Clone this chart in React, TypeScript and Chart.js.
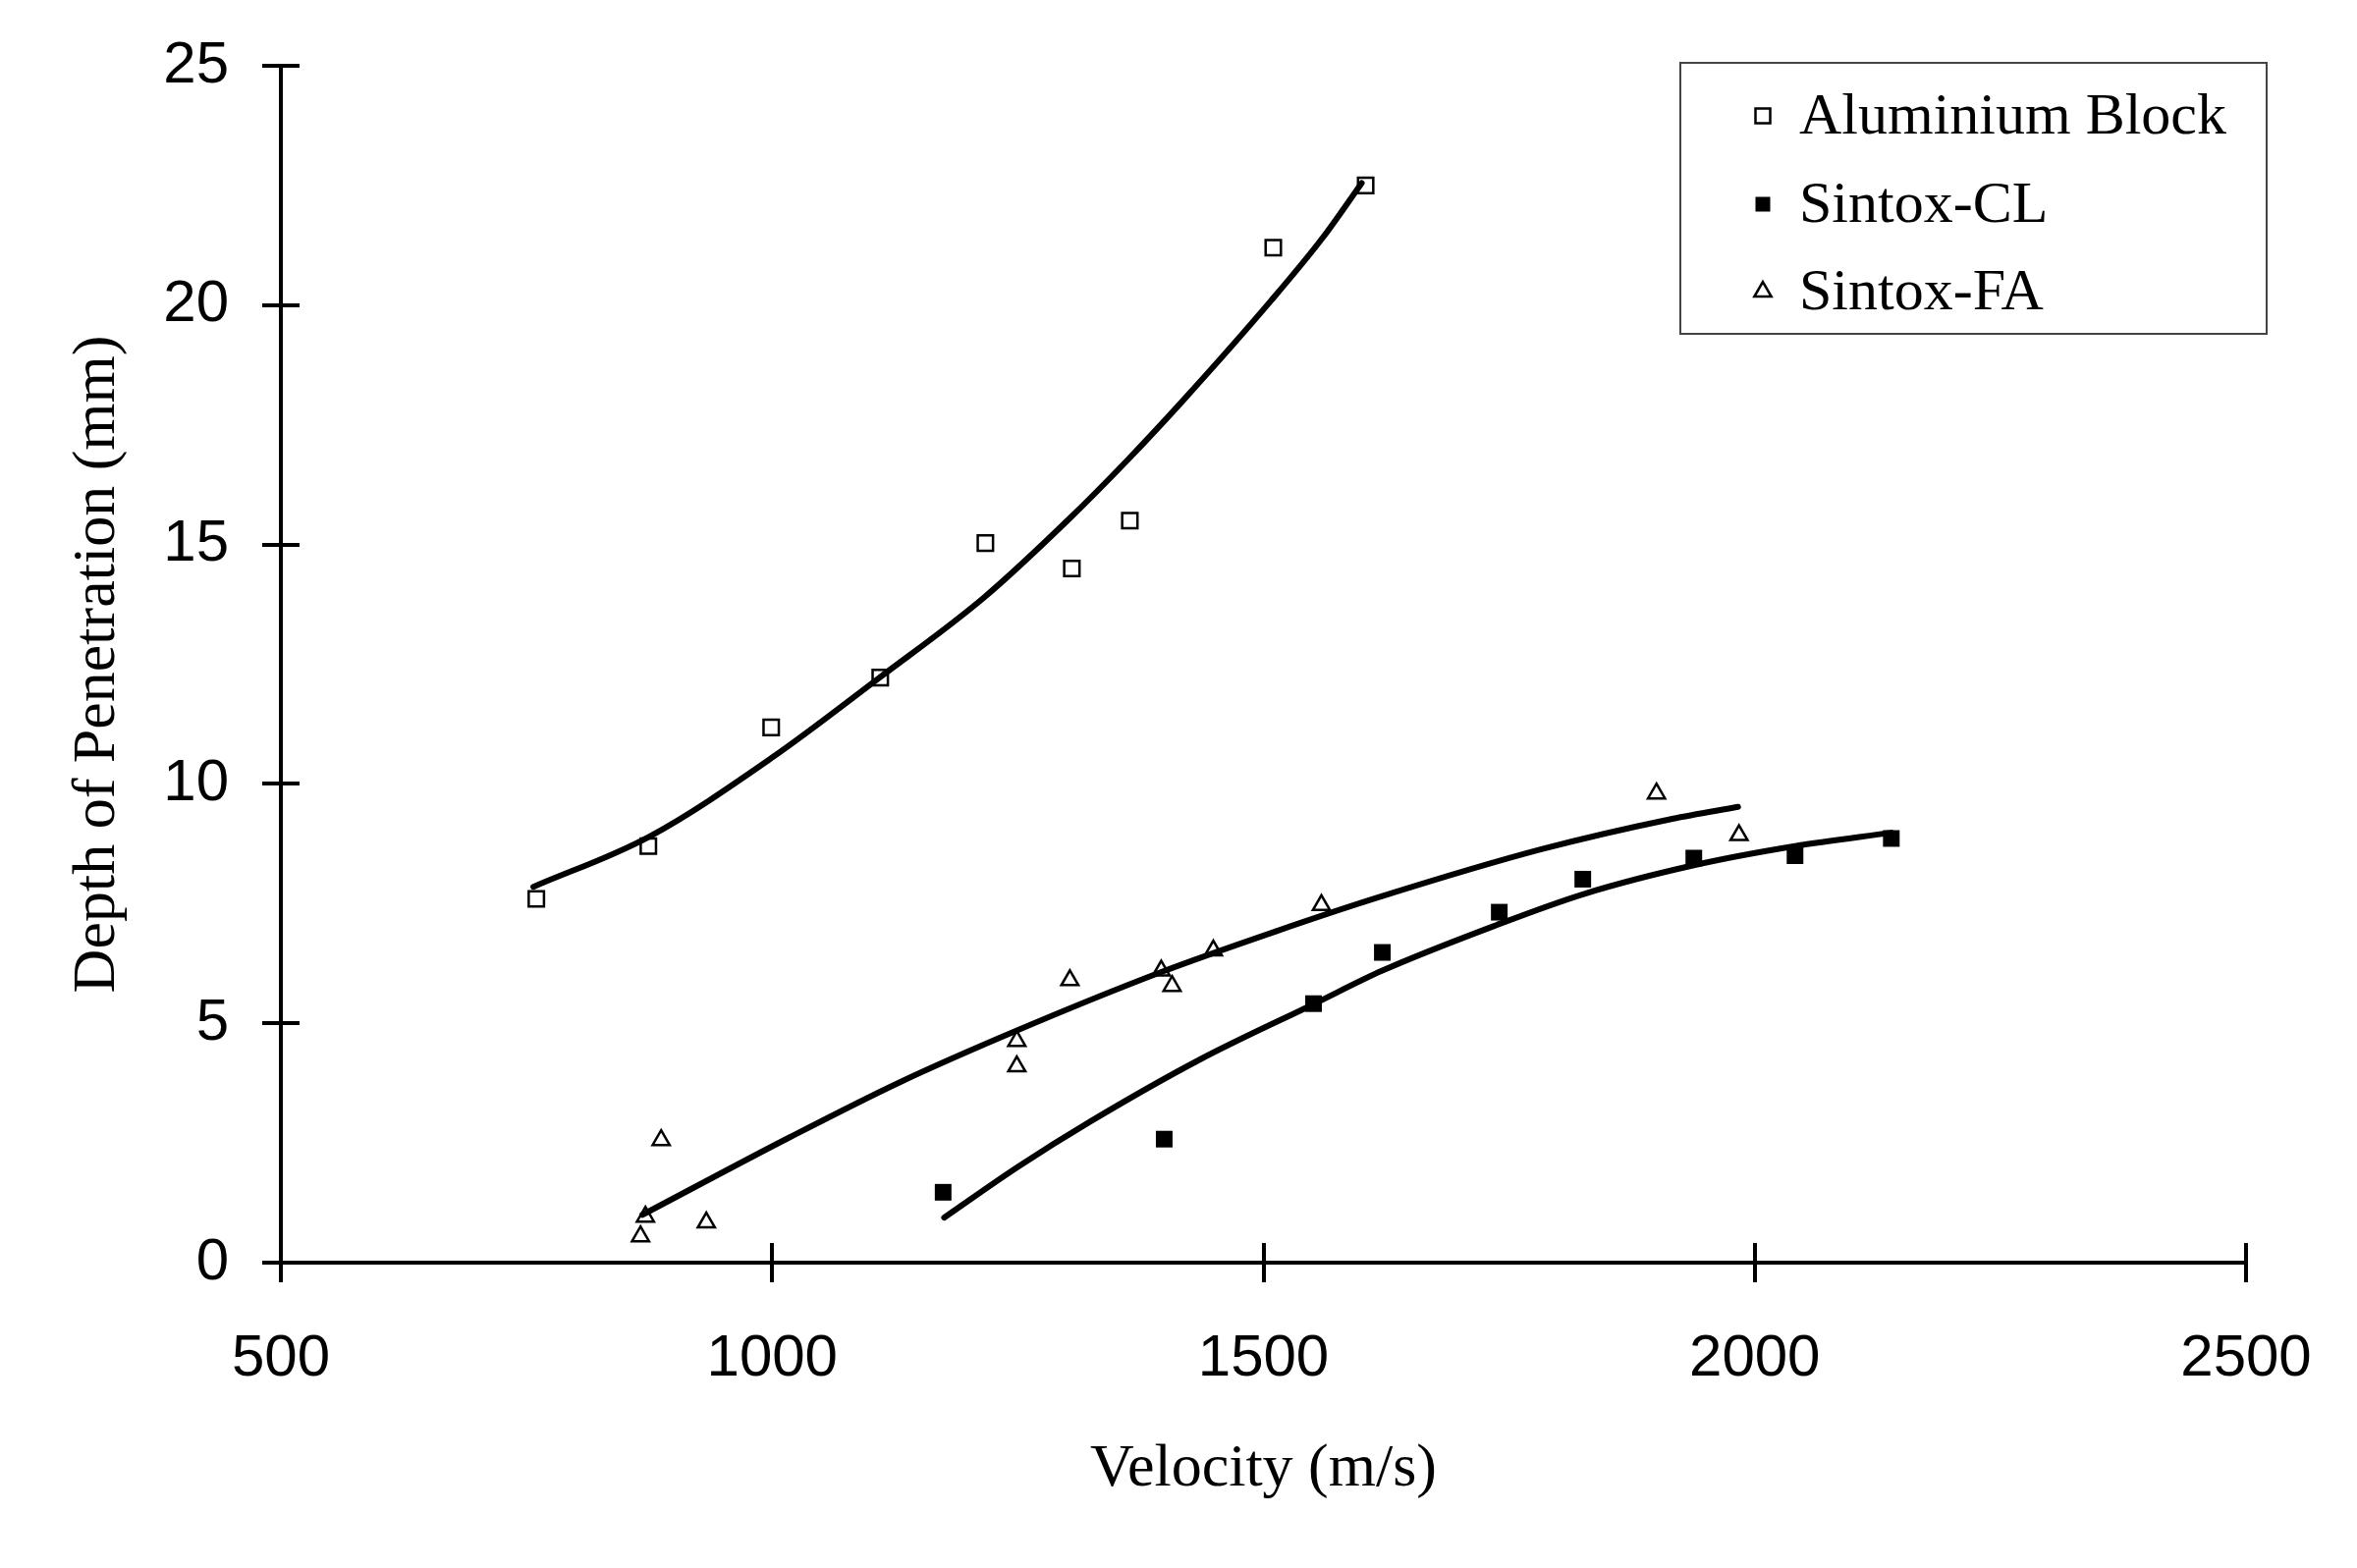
import React, { useEffect, useRef } from "react";
import { Chart, registerables } from "chart.js";

Chart.register(...registerables);

// ---- data ----
const xTickValues = [500, 1000, 1500, 2000, 2500];
const yTickValues = [0, 5, 10, 15, 20, 25];
const seriesNames = ["Aluminium Block", "Sintox-CL", "Sintox-FA"];

const alVelocity = [760, 874, 999, 1110, 1217, 1305, 1364, 1510, 1604];
const alDepth = [7.6, 8.7, 11.18, 12.22, 15.03, 14.5, 15.5, 21.2, 22.5];

const clVelocity = [1174, 1399, 1551, 1621, 1740, 1825, 1938, 2041, 2139];
const clDepth = [1.47, 2.58, 5.41, 6.48, 7.32, 8.01, 8.45, 8.5, 8.86];

const faVelocity = [866, 871, 887, 933, 1249, 1249, 1303, 1396, 1407, 1449, 1559, 1900, 1984];
const faDepth = [0.55, 0.96, 2.56, 0.84, 4.1, 4.63, 5.9, 6.1, 5.78, 6.52, 7.47, 9.8, 8.93];

// trend lines
const alFitVelocity = [757, 875, 1000, 1108, 1216, 1303, 1361, 1420, 1508, 1560, 1600];
const alFitDepth = [7.85, 8.9, 10.55, 12.2, 13.9, 15.55, 16.75, 18.05, 20.1, 21.4, 22.55];

const clFitVelocity = [1175, 1250, 1324, 1436, 1551, 1621, 1737, 1826, 1938, 2041, 2139];
const clFitDepth = [0.94, 2.0, 2.95, 4.25, 5.4, 6.1, 7.05, 7.7, 8.3, 8.7, 8.98];

const faFitVelocity = [868, 1018, 1130, 1248, 1396, 1514, 1617, 1782, 1916, 1983];
const faFitDepth = [1.0, 2.62, 3.77, 4.84, 6.07, 6.93, 7.63, 8.63, 9.27, 9.52];

const xTitle = "Velocity (m/s)";
const yTitle = "Depth of Penetration (mm)";

const toPts = (xs: number[], ys: number[]) => xs.map((x, i) => ({ x, y: ys[i] }));

const SANS = "'Liberation Sans', Arial, sans-serif";
const SERIF = "'Liberation Serif', 'Times New Roman', serif";

const crossTicks = {
  id: "crossTicks",
  afterDraw(chart: any) {
    const { ctx, chartArea, scales } = chart;
    ctx.save();
    ctx.strokeStyle = "#000";
    ctx.lineWidth = 4;
    scales.y.ticks.forEach((t: any) => {
      const py = Math.round(scales.y.getPixelForValue(t.value));
      ctx.beginPath();
      ctx.moveTo(chartArea.left - 19, py);
      ctx.lineTo(chartArea.left + 19, py);
      ctx.stroke();
    });
    scales.x.ticks.forEach((t: any) => {
      const px = Math.round(scales.x.getPixelForValue(t.value));
      ctx.beginPath();
      ctx.moveTo(px, chartArea.bottom - 20);
      ctx.lineTo(px, chartArea.bottom + 20);
      ctx.stroke();
    });
    ctx.restore();
  },
};

function drawMarker(ctx: CanvasRenderingContext2D, style: string, filled: boolean, x: number, y: number) {
  ctx.beginPath();
  if (style === "rect") {
    const s = 15;
    ctx.rect(x - s / 2, y - s / 2, s, s);
  } else {
    const r = 10;
    ctx.moveTo(x, y - r);
    ctx.lineTo(x + r * 0.866, y + r / 2);
    ctx.lineTo(x - r * 0.866, y + r / 2);
    ctx.closePath();
  }
  if (filled) {
    ctx.fillStyle = "#000";
    ctx.fill();
  } else {
    ctx.fillStyle = "#fff";
    ctx.fill();
    ctx.lineWidth = 2.5;
    ctx.strokeStyle = "#000";
    ctx.stroke();
  }
}

const boxLegend = {
  id: "boxLegend",
  afterDraw(chart: any) {
    const { ctx } = chart;
    ctx.save();
    ctx.fillStyle = "#fff";
    ctx.fillRect(1711, 64, 597, 276);
    ctx.strokeStyle = "#444";
    ctx.lineWidth = 2;
    ctx.strokeRect(1711, 64, 597, 276);
    const rows = [118, 208, 297];
    const markerSets = chart.data.datasets.filter((d: any) => d.isMarker);
    markerSets.forEach((d: any, i: number) => {
      drawMarker(ctx, d.pointStyle, d.pointBackgroundColor === "#000", 1795, rows[i]);
      ctx.fillStyle = "#000";
      ctx.font = `60px ${SERIF}`;
      ctx.textAlign = "left";
      ctx.textBaseline = "middle";
      ctx.fillText(d.label, 1832, rows[i] + 2);
    });
    ctx.restore();
  },
};

const zeroPad = (s: any) => {
  s.paddingTop = 0;
  s.paddingBottom = 0;
  s.paddingLeft = 0;
  s.paddingRight = 0;
};

export default function App() {
  const ref = useRef<HTMLCanvasElement>(null);

  useEffect(() => {
    const lineDs = (xs: number[], ys: number[]) => ({
      label: "",
      data: toPts(xs, ys),
      showLine: true,
      borderColor: "#000",
      borderWidth: 6,
      pointRadius: 0,
      fill: false,
      cubicInterpolationMode: "monotone" as const,
      borderCapStyle: "round" as const,
      isMarker: false,
    });
    const markerDs = (label: string, xs: number[], ys: number[], style: string, filled: boolean, r: number) => ({
      label,
      data: toPts(xs, ys),
      showLine: false,
      pointStyle: style,
      pointRadius: r,
      pointBackgroundColor: filled ? "#000" : "#fff",
      pointBorderColor: "#000",
      pointBorderWidth: filled ? 0 : 2.5,
      isMarker: true,
    });

    const chart = new Chart(ref.current!, {
      type: "scatter",
      data: {
        datasets: [
          lineDs(alFitVelocity, alFitDepth),
          lineDs(clFitVelocity, clFitDepth),
          lineDs(faFitVelocity, faFitDepth),
          markerDs(seriesNames[0], alVelocity, alDepth, "rect", false, 11),
          markerDs(seriesNames[1], clVelocity, clDepth, "rect", true, 12),
          markerDs(seriesNames[2], faVelocity, faDepth, "triangle", false, 10),
        ] as any,
      },
      options: {
        responsive: false,
        animation: false,
        devicePixelRatio: 1,
        layout: { padding: { left: 0, top: 67, right: 113, bottom: 0 } },
        plugins: { legend: { display: false }, tooltip: { enabled: false } },
        scales: {
          x: {
            type: "linear",
            min: 500,
            max: 2500,
            afterBuildTicks: (s: any) => {
              s.ticks = xTickValues.map((v) => ({ value: v }));
            },
            afterFit: (s: any) => {
              s.height = 311;
              zeroPad(s);
            },
            grid: { display: false, drawTicks: false, tickLength: 0 },
            border: { display: true, color: "#000", width: 4 },
            ticks: {
              color: "#000",
              padding: 62,
              maxRotation: 0,
              font: { family: SANS, size: 60 },
              callback: (v: any) => String(v),
            },
            title: {
              display: true,
              text: xTitle,
              color: "#000",
              font: { family: SERIF, size: 62 },
              padding: { top: 0, bottom: 63 },
            },
          },
          y: {
            type: "linear",
            min: 0,
            max: 25,
            afterBuildTicks: (s: any) => {
              s.ticks = yTickValues.map((v) => ({ value: v }));
            },
            afterFit: (s: any) => {
              s.width = 286;
              zeroPad(s);
            },
            grid: { display: false, drawTicks: false, tickLength: 0 },
            border: { display: true, color: "#000", width: 4 },
            ticks: {
              color: "#000",
              padding: 53,
              font: { family: SANS, size: 60 },
              callback: (v: any) => String(v),
            },
            title: {
              display: true,
              text: yTitle,
              color: "#000",
              font: { family: SERIF, size: 62 },
              padding: { top: 63, bottom: 0 },
            },
          },
        },
      } as any,
      plugins: [crossTicks, boxLegend],
    });
    return () => chart.destroy();
  }, []);

  return (
    <div style={{ position: "fixed", left: 0, top: 0, width: 2400, height: 1597, background: "#fff" }}>
      <canvas ref={ref} width={2400} height={1597} style={{ width: 2400, height: 1597, display: "block" }} />
    </div>
  );
}
